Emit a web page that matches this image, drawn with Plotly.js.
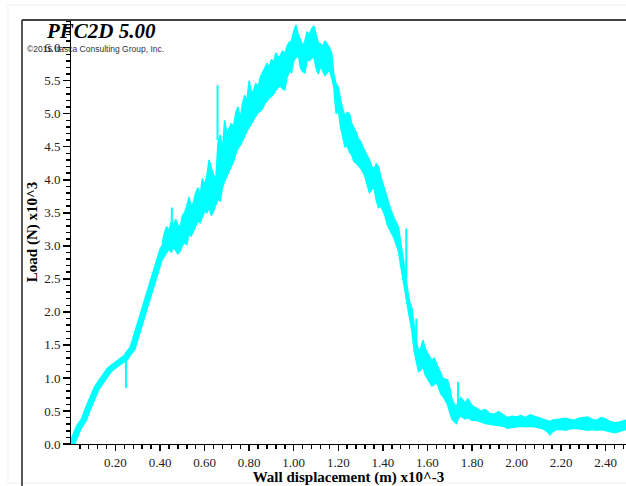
<!DOCTYPE html>
<html>
<head>
<meta charset="utf-8">
<script src="https://cdn.plot.ly/plotly-3.0.1.min.js"></script>
<style>html,body{margin:0;padding:0;background:#fff;}#chart{width:626px;height:486px;}</style>
</head>
<body>
<div id="chart"></div>
<script>
// Early (narrow) part of the load curve: displacement (x10^-3 m) and load (x10^3 N)
const earlyDisp = [0.005, 0.02, 0.035, 0.045, 0.06, 0.075, 0.097, 0.115, 0.135, 0.155, 0.172, 0.19, 0.209, 0.228, 0.247, 0.26, 0.277, 0.29, 0.306, 0.32, 0.336, 0.355, 0.374, 0.39, 0.411, 0.43];
const earlyLoad = [0.0, 0.15, 0.25, 0.30, 0.38, 0.52, 0.72, 0.84, 0.94, 1.04, 1.12, 1.17, 1.22, 1.27, 1.31, 1.38, 1.45, 1.60, 1.78, 1.95, 2.13, 2.36, 2.58, 2.76, 2.94, 3.05];

// Noisy part of the curve: displacement and upper / lower envelope of the load band
const bandDisp = [0.41, 0.42, 0.43, 0.44, 0.45, 0.46, 0.47, 0.48, 0.49, 0.50, 0.51, 0.52, 0.53, 0.54, 0.55, 0.56, 0.57, 0.58, 0.59, 0.60,
  0.61, 0.62, 0.63, 0.64, 0.65, 0.66, 0.67, 0.68, 0.69, 0.70, 0.71, 0.72, 0.73, 0.74, 0.75, 0.76, 0.77, 0.78, 0.79, 0.80,
  0.81, 0.82, 0.83, 0.84, 0.85, 0.86, 0.87, 0.88, 0.89, 0.90, 0.91, 0.92, 0.93, 0.94, 0.95, 0.96, 0.97, 0.98, 0.99, 1.00,
  1.01, 1.02, 1.03, 1.04, 1.05, 1.06, 1.07, 1.08, 1.09, 1.10, 1.11, 1.12, 1.13, 1.14, 1.15, 1.16, 1.17, 1.18, 1.19, 1.20,
  1.21, 1.22, 1.23, 1.24, 1.25, 1.26, 1.27, 1.28, 1.29, 1.30, 1.31, 1.32, 1.33, 1.34, 1.35, 1.36, 1.37, 1.38, 1.39, 1.40,
  1.41, 1.42, 1.43, 1.44, 1.45, 1.46, 1.47, 1.48, 1.49, 1.50, 1.51, 1.52, 1.53, 1.54, 1.55, 1.56, 1.57, 1.58, 1.59, 1.60,
  1.61, 1.62, 1.63, 1.64, 1.65, 1.66, 1.67, 1.68, 1.69, 1.70, 1.71, 1.72, 1.73, 1.74, 1.75, 1.76, 1.77, 1.78, 1.79, 1.80,
  1.82, 1.84, 1.86, 1.88, 1.90, 1.92, 1.94, 1.96, 1.98, 2.00, 2.02, 2.04, 2.06, 2.08, 2.10, 2.12, 2.14, 2.15, 2.16, 2.18,
  2.20, 2.22, 2.24, 2.26, 2.28, 2.30, 2.32, 2.34, 2.36, 2.38, 2.40, 2.42, 2.44, 2.46, 2.48, 2.491];
const loadUpper = [3.04, 3.20, 3.29, 3.22, 3.36, 3.30, 3.40, 3.32, 3.28, 3.45, 3.50, 3.60, 3.74, 3.58, 3.66, 3.80, 3.88, 3.76, 4.02, 3.92,
  4.05, 4.30, 4.18, 4.08, 3.98, 4.55, 4.68, 4.45, 4.90, 4.70, 4.78, 4.85, 4.80, 5.02, 5.10, 4.92, 5.15, 5.28, 5.20, 5.50,
  5.32, 5.35, 5.46, 5.40, 5.55, 5.62, 5.68, 5.76, 5.70, 5.82, 5.78, 5.92, 5.85, 5.88, 5.95, 5.90, 6.02, 6.08, 6.10, 6.25,
  6.34, 6.20, 6.12, 6.02, 6.10, 6.24, 6.20, 6.28, 6.33, 6.18, 6.08, 6.05, 6.02, 6.10, 6.05, 6.00, 5.92, 5.60, 5.45, 5.40,
  5.20, 5.05, 4.95, 5.02, 5.00, 4.85, 4.78, 4.72, 4.62, 4.58, 4.50, 4.44, 4.38, 4.30, 4.20, 4.16, 4.24, 4.20, 4.05, 3.95,
  3.85, 3.72, 3.60, 3.50, 3.42, 3.35, 3.28, 3.05, 2.85, 2.62, 2.35, 2.15, 2.06, 1.80, 1.55, 1.40, 1.45, 1.57, 1.45, 1.38,
  1.32, 1.26, 1.30, 1.22, 1.15, 1.05, 0.99, 0.98, 0.97, 0.85, 0.68, 0.60, 0.57, 0.65, 0.70, 0.66, 0.62, 0.68, 0.64, 0.58,
  0.54, 0.50, 0.52, 0.46, 0.45, 0.49, 0.44, 0.40, 0.42, 0.41, 0.43, 0.40, 0.44, 0.42, 0.40, 0.38, 0.36, 0.34, 0.36, 0.37,
  0.38, 0.39, 0.37, 0.36, 0.39, 0.40, 0.41, 0.37, 0.36, 0.40, 0.38, 0.34, 0.32, 0.33, 0.35, 0.36];
const loadLower = [2.79, 2.85, 2.89, 2.95, 2.90, 2.98, 2.93, 2.88, 2.92, 3.00, 3.05, 3.02, 3.18, 3.15, 3.22, 3.30, 3.38, 3.35, 3.44, 3.52,
  3.50, 3.58, 3.46, 3.52, 3.62, 3.70, 3.68, 3.88, 3.98, 4.05, 4.12, 4.20, 4.28, 4.40, 4.48, 4.52, 4.58, 4.66, 4.74, 4.80,
  4.86, 4.92, 4.96, 5.02, 5.04, 5.08, 5.15, 5.20, 5.24, 5.26, 5.30, 5.36, 5.40, 5.42, 5.38, 5.36, 5.55, 5.65, 5.62, 5.80,
  5.86, 5.90, 5.70, 5.64, 5.62, 5.82, 5.80, 5.84, 5.86, 5.70, 5.60, 5.72, 5.65, 5.58, 5.62, 5.66, 5.55, 5.40, 5.00, 5.06,
  4.80, 4.62, 4.50, 4.52, 4.42, 4.38, 4.28, 4.25, 4.22, 4.18, 4.12, 4.05, 3.92, 3.80, 3.86, 3.88, 3.70, 3.58, 3.60, 3.54,
  3.45, 3.32, 3.25, 3.18, 3.12, 3.02, 2.92, 2.70, 2.50, 2.30, 2.05, 1.90, 1.72, 1.42, 1.25, 1.10, 1.12, 1.18, 1.05, 1.00,
  0.95, 0.88, 0.90, 0.94, 0.86, 0.76, 0.72, 0.66, 0.60, 0.48, 0.38, 0.34, 0.31, 0.40, 0.42, 0.40, 0.38, 0.40, 0.38, 0.36,
  0.36, 0.33, 0.31, 0.30, 0.29, 0.29, 0.27, 0.24, 0.25, 0.26, 0.27, 0.26, 0.27, 0.26, 0.25, 0.23, 0.18, 0.14, 0.18, 0.22,
  0.22, 0.21, 0.23, 0.24, 0.23, 0.22, 0.21, 0.22, 0.21, 0.22, 0.20, 0.19, 0.17, 0.19, 0.21, 0.22];

// Isolated spikes
const spikeDisp = [0.247, 0.453, 0.658, 1.505, 1.550, 1.737];
const spikeBase = [1.30, 3.20, 4.60, 2.50, 1.45, 0.55];
const spikeTip  = [0.85, 3.58, 5.43, 3.26, 1.90, 0.94];

// Tick label formats
const xTickFormat = '.2f';
const yTickFormat = '.1f';

const CYAN = '#00FFFF';
const sx = [], sy = [];
spikeDisp.forEach((d, i) => { sx.push(d, d, null); sy.push(spikeBase[i], spikeTip[i], null); });

const traces = [
  {x: earlyDisp, y: earlyLoad, mode: 'lines', line: {color: CYAN, width: 6.5}, hoverinfo: 'skip', showlegend: false},
  {x: bandDisp, y: loadLower, mode: 'lines', line: {color: CYAN, width: 1.5}, hoverinfo: 'skip', showlegend: false},
  {x: bandDisp, y: loadUpper, mode: 'lines', line: {color: CYAN, width: 1.5}, fill: 'tonexty', fillcolor: CYAN, hoverinfo: 'skip', showlegend: false},
  {x: sx, y: sy, mode: 'lines', line: {color: CYAN, width: 2}, hoverinfo: 'skip', showlegend: false}
];

const W = 626, H = 486, L = 71, R = 0, T = 20, B = 42;
const pw = W - L - R, ph = H - T - B;
const px = p => (p - L) / pw;          // pixel x -> paper x
const py = p => (H - B - p) / ph;      // pixel y -> paper y
const serif = 'Liberation Serif, Times New Roman, serif';

const layout = {
  width: W, height: H,
  margin: {l: L, r: R, t: T, b: B},
  showlegend: false,
  xaxis: {
    range: [0.0005, pw / 222.8], showline: true, linecolor: '#000', showgrid: false, zeroline: false,
    tickmode: 'linear', tick0: 0, dtick: 0.2, tickformat: xTickFormat,
    ticks: 'outside', ticklen: 6, tickcolor: 'black', tickwidth: 1.5,
    minor: {dtick: 0.04, ticks: 'outside', ticklen: 4, tickcolor: 'black', tickwidth: 1.5},
    tickfont: {family: serif, size: 13, color: '#222'},
    title: {text: '<b>Wall displacement (m) x10^-3</b>', font: {family: serif, size: 15, color: '#000'}, standoff: 2}
  },
  yaxis: {
    range: [0, ph / 66.06], showline: true, linecolor: '#000', showgrid: false, zeroline: false,
    tickmode: 'linear', tick0: 0, dtick: 0.5, tickformat: yTickFormat,
    ticks: 'outside', ticklen: 7, tickcolor: 'black', tickwidth: 1.5,
    minor: {dtick: 0.1, ticks: 'outside', ticklen: 4, tickcolor: 'black', tickwidth: 1.5},
    tickfont: {family: serif, size: 13, color: '#222'},
    title: {text: '<b>Load (N) x10^3</b>', font: {family: serif, size: 15, color: '#000'}, standoff: 2}
  },
  shapes: [
    {type: 'line', xref: 'paper', yref: 'paper', x0: px(8), x1: 1, y0: py(5), y1: py(5), line: {color: '#efefef', width: 1}},
    {type: 'line', xref: 'paper', yref: 'paper', x0: px(8), x1: px(8), y0: py(5), y1: py(483), line: {color: '#efefef', width: 1}},
    {type: 'line', xref: 'paper', yref: 'paper', x0: px(8), x1: 1, y0: py(483), y1: py(483), line: {color: '#efefef', width: 1}},
    {type: 'line', xref: 'paper', yref: 'paper', x0: px(22), x1: 1, y0: py(20), y1: py(20), line: {color: '#444', width: 2}},
    {type: 'line', xref: 'paper', yref: 'paper', x0: px(22), x1: px(22), y0: py(20), y1: py(486), line: {color: '#222', width: 1.5}}
  ],
  annotations: [
    {xref: 'paper', yref: 'paper', x: px(44), y: py(31), xanchor: 'left', yanchor: 'middle', showarrow: false,
     text: '<b><i>PFC2D 5.00</i></b>', font: {family: serif, size: 21, color: '#000'}},
    {xref: 'paper', yref: 'paper', x: px(25), y: py(49.5), xanchor: 'left', yanchor: 'middle', showarrow: false,
     text: '©2015 Itasca Consulting Group, Inc.', font: {family: 'Liberation Sans, Arial, sans-serif', size: 8.5, color: '#333'}}
  ]
};

Plotly.newPlot('chart', traces, layout, {staticPlot: true});
</script>
</body>
</html>
